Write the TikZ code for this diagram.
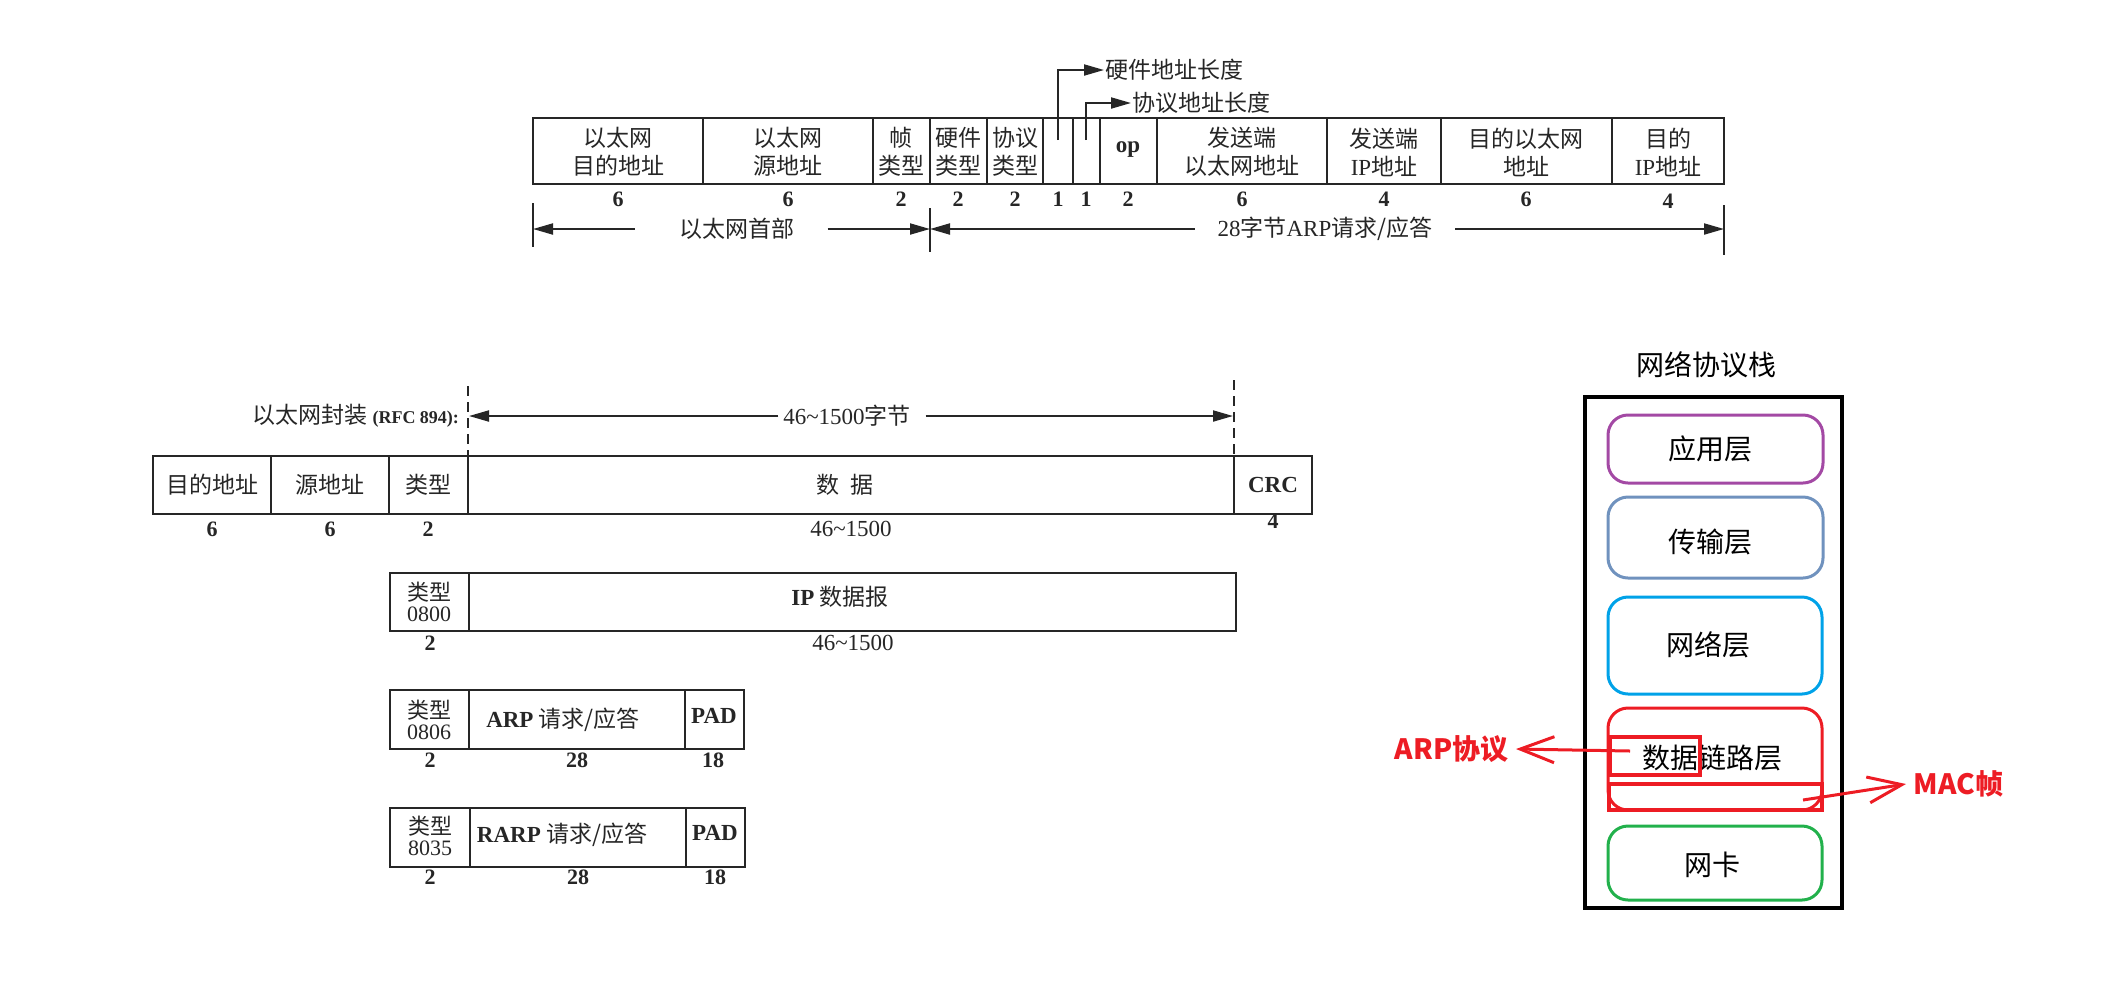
\documentclass[tikz,border=0pt]{standalone}
\usepackage{fontspec}
\setmainfont{Liberation Serif}
\newfontfamily\cjk{Noto Sans CJK SC}
\usetikzlibrary{arrows.meta}
\usetikzlibrary{positioning}
\definecolor{ppurple}{HTML}{A349A4}
\definecolor{psteel}{HTML}{7092BE}
\definecolor{pblue}{HTML}{00A2E8}
\definecolor{pred}{HTML}{ED1C24}
\definecolor{pgreen}{HTML}{22B14C}

\begin{document}
\begin{tikzpicture}[x=0.5pt,y=-0.5pt,line width=1pt,draw=black!85,
	>={Triangle[length=10pt,width=5.5pt]},
	lab/.style={font={\cjk\fontsize{11.5}{14}\selectfont},align=center,inner sep=0pt,text=black!85},
	tl/.style={font={\cjk\fontsize{11}{10.5}\selectfont},align=center,inner sep=0pt,text=black!85},
	num/.style={font={\bfseries\fontsize{11}{12}\selectfont},inner sep=0pt,text=black!85},
	numr/.style={font={\fontsize{11.5}{12}\selectfont},inner sep=0pt,text=black!85},
	stk/.style={font={\cjk\fontsize{14}{16}\selectfont},inner sep=0pt},
	lyr/.style={line width=1.5pt,rounded corners=10pt},
	redline/.style={draw=pred,line width=2pt},
	redarr/.style={draw=pred,line width=1.5pt,-{Straight Barb[length=17pt,width=13pt]}},
	redlab/.style={font={\cjk\bfseries\fontsize{14}{16}\selectfont},text=pred}]
	\useasboundingbox (0,0) rectangle (2124,981);
	\def\ya{118}
	\def\yb{184}
	% trama ARP
	\draw (533,\ya) rectangle (1724,\yb);
	\draw (703,\ya)--(703,\yb) (873,\ya)--(873,\yb) (930,\ya)--(930,\yb) (987,\ya)--(987,\yb)
		(1043,\ya)--(1043,\yb) (1073,\ya)--(1073,\yb) (1100,\ya)--(1100,\yb) (1157,\ya)--(1157,\yb)
		(1327,\ya)--(1327,\yb) (1441,\ya)--(1441,\yb) (1612,\ya)--(1612,\yb);
	\node[lab] (dst) at (618,152) {以太网\\目的地址};
	\node[lab] (src) at (788,152) {以太网\\源地址};
	\node[lab] (ftype) at (901,152) {帧\\类型};
	\node[lab] (htype) at (958,152) {硬件\\类型};
	\node[lab] (ptype) at (1015,152) {协议\\类型};
	\node[num,font={\bfseries\fontsize{11.5}{12}\selectfont}] (op) at (1128,150) {op};
	\node[lab] (sha) at (1242,152) {发送端\\以太网地址};
	\node[lab] (spa) at (1384,152) {发送端\\{\rmfamily IP}地址};
	\node[lab] (tha) at (1526,152) {目的以太网\\地址};
	\node[lab] (tpa) at (1668,152) {目的\\{\rmfamily IP}地址};
	\node[num] (n1) at (618,199) {6};
	\node[num] (n2) at (788,199) {6};
	\node[num] (n3) at (901,199) {2};
	\node[num] (n4) at (958,199) {2};
	\node[num] (n5) at (1015,199) {2};
	\node[num] (n6) at (1058,199) {1};
	\node[num] (n7) at (1086,199) {1};
	\node[num] (n8) at (1128,199) {2};
	\node[num] (n9) at (1242,199) {6};
	\node[num] (n10) at (1384,199) {4};
	\node[num] (n11) at (1526,199) {6};
	\node[num] (n12) at (1668,201) {4};
	% lunghezze indirizzi
	\coordinate (hl) at (1058,140);
	\coordinate (pl) at (1086,140);
	\node[lab,anchor=west] (hlen) at (1104,70) {硬件地址长度};
	\node[lab,anchor=west] (plen) at (1131,103) {协议地址长度};
	\draw[->] (hl) |- (hlen.west);
	\draw[->] (pl) |- (plen.west);
	% quote
	\coordinate (t1) at (533,229);
	\coordinate (t2) at (930,229);
	\coordinate (t3) at (1724,229);
	\draw (533,203)--(533,247) (930,208)--(930,252) (1724,205)--(1724,255);
	\node[lab] (hdr) at (737,229) {以太网首部};
	\node[lab] (arp28) at (1325,229) {{\rmfamily 28}字节{\rmfamily ARP}请求/应答};
	\draw[->] ([xshift=-22pt]hdr.west) -- (t1);
	\draw[->] ([xshift=16pt]hdr.east) -- (t2);
	\draw[->] ([xshift=-11pt]arp28.west) -- (t2);
	\draw[->] ([xshift=11pt]arp28.east) -- (t3);
	% incapsulamento
	\def\yc{456}
	\def\yd{514}
	\draw (153,\yc) rectangle (1312,\yd);
	\draw (271,\yc)--(271,\yd) (389,\yc)--(389,\yd) (468,\yc)--(468,\yd) (1234,\yc)--(1234,\yd);
	\draw[dash pattern=on 5pt off 3pt] (468,386)--(468,\yc) (1234,380)--(1234,\yc);
	\node[lab] (edst) at (212,485) {目的地址};
	\node[lab] (esrc) at (330,485) {源地址};
	\node[lab] (etype) at (428,485) {类型};
	\node[lab] (edata) at (845,485) {数\hspace{0.45em}据};
	\node[num,font={\bfseries\fontsize{11.5}{12}\selectfont}] (ecrc) at (1273,485) {CRC};
	\node[num] (e1) at (212,529) {6};
	\node[num] (e2) at (330,529) {6};
	\node[num] (e3) at (428,529) {2};
	\node[numr] (e4) at (851,529) {46\textasciitilde1500};
	\node[num] (e5) at (1273,521) {4};
	\node[lab,anchor=east] (encap) at (460,416) {以太网封装 {\rmfamily\bfseries\fontsize{9}{10}\selectfont (RFC 894):}};
	\node[lab] (len) at (847,416) {{\rmfamily 46\textasciitilde1500}字节};
	\coordinate (d1) at (469,416);
	\coordinate (d2) at (1233,416);
	\draw[->] ([xshift=-2pt]len.west) -- (d1);
	\draw[->] ([xshift=7pt]len.east) -- (d2);
	% datagramma IP
	\draw (390,573) rectangle (1236,631);
	\draw (469,573)--(469,631);
	\node[tl] (iptype) at (429,602) {类型\\{\rmfamily 0800}};
	\node[lab] (ipdg) at (840,597) {{\rmfamily\bfseries IP} 数据报};
	\node[num] (ip1) at (430,643) {2};
	\node[numr] (ip2) at (853,643) {46\textasciitilde1500};
	% ARP
	\draw (390,690) rectangle (744,749);
	\draw (469,690)--(469,749) (685,690)--(685,749);
	\node[tl] (arptype) at (429,720) {类型\\{\rmfamily 0806}};
	\node[lab] (arpreq) at (563,720) {{\rmfamily\bfseries ARP} 请求/应答};
	\node[num,font={\bfseries\fontsize{11.5}{12}\selectfont}] (arppad) at (714,716) {PAD};
	\node[num] (a1) at (430,760) {2};
	\node[num] (a2) at (577,760) {28};
	\node[num] (a3) at (713,760) {18};
	% RARP
	\draw (390,808) rectangle (745,867);
	\draw (470,808)--(470,867) (686,808)--(686,867);
	\node[tl] (rarptype) at (430,836) {类型\\{\rmfamily 8035}};
	\node[lab] (rarpreq) at (562,835) {{\rmfamily\bfseries RARP} 请求/应答};
	\node[num,font={\bfseries\fontsize{11.5}{12}\selectfont}] (rarppad) at (715,833) {PAD};
	\node[num] (r1) at (430,877) {2};
	\node[num] (r2) at (578,877) {28};
	\node[num] (r3) at (715,877) {18};
	% pila protocolli
	\node[stk] (stack) at (1706,365) {网络协议栈};
	\draw[line width=2pt,draw=black] (1585,397) rectangle (1842,908);
	\draw[lyr,draw=ppurple] (1608,415) rectangle (1823,483);
	\draw[lyr,draw=psteel] (1608,497) rectangle (1823,578);
	\draw[lyr,draw=pblue] (1608,597) rectangle (1822,694);
	\draw[lyr,draw=pred] (1608,708) rectangle (1822,810);
	\draw[lyr,draw=pgreen] (1608,826) rectangle (1822,900);
	\node[stk] (app) at (1710,449) {应用层};
	\node[stk] (trans) at (1710,542) {传输层};
	\node[stk] (net) at (1708,645) {网络层};
	\node[stk] (link) at (1712,758) {数据链路层};
	\node[stk] (nic) at (1712,865) {网卡};
	\draw[redline] (1610,737) rectangle (1700,775);
	\draw[redline] (1609,784) rectangle (1822,810);
	\coordinate (arpfrom) at (1630,751);
	\coordinate (macfrom) at (1803,800);
	\node[redlab,anchor=east] (arplab) at (1516,749) {ARP协议};
	\node[redlab,anchor=west] (maclab) at (1906,784) {MAC帧};
	\draw[redarr] (arpfrom) -- (arplab.east);
	\draw[redarr] (macfrom) -- (maclab.west);
\end{tikzpicture}
\end{document}
